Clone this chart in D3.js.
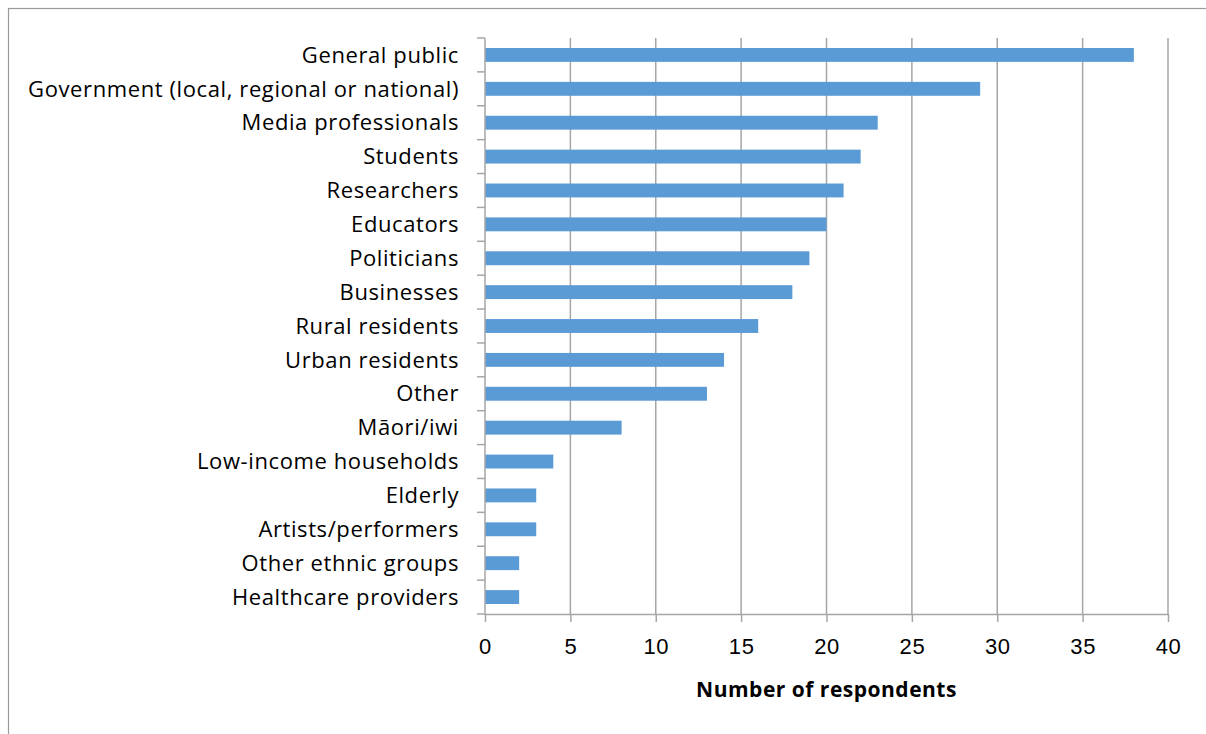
<!DOCTYPE html>
<html lang="en">
<head>
  <meta charset="UTF-8">
  <title>Number of respondents</title>
  <style>
    body { margin: 0; background: #fff; }
    svg { display: block; font-family: "Open Sans", sans-serif; }
    .grid line { stroke: #a6a6a6; stroke-width: 1.5; }
    .axis path, .axis line { stroke: #a6a6a6; stroke-width: 1.5; }
    .axis text { fill: #000; font-size: 22px; letter-spacing: 0.6px; }
    .bar { fill: #5b9bd5; }
    .title { font-size: 21px; font-weight: bold; letter-spacing: 0.5px; }
  </style>
</head>
<body>
  <script src="https://d3js.org/d3.v7.min.js"></script>
  <script>
    // data
    const categories = ['General public', 'Government (local, regional or national)', 'Media professionals',
      'Students', 'Researchers', 'Educators', 'Politicians', 'Businesses', 'Rural residents',
      'Urban residents', 'Other', 'Māori/iwi', 'Low-income households', 'Elderly',
      'Artists/performers', 'Other ethnic groups', 'Healthcare providers'];
    const respondents = [38, 29, 23, 22, 21, 20, 19, 18, 16, 14, 13, 8, 4, 3, 3, 2, 2];
    const xTicks = [0, 5, 10, 15, 20, 25, 30, 35, 40];

    const WIDTH = 1206, HEIGHT = 734;
    const margin = {top: 38, right: 38, bottom: 120, left: 485};
    const innerW = WIDTH - margin.left - margin.right;
    const innerH = HEIGHT - margin.top - margin.bottom;

    const svg = d3.select('body').append('svg')
      .attr('width', WIDTH)
      .attr('height', HEIGHT);

    // outer frame
    svg.append('rect')
      .attr('x', 8.5).attr('y', 8.5)
      .attr('width', WIDTH + 10).attr('height', HEIGHT + 10)
      .attr('fill', 'none')
      .attr('stroke', '#9a9a9a')
      .attr('stroke-width', 1.2);

    const g = svg.append('g').attr('transform', `translate(${margin.left},${margin.top})`);

    const x = d3.scaleLinear().domain([0, 40]).range([0, innerW]);
    const y = d3.scaleBand().domain(categories).range([0, innerH]).paddingInner(0.59).paddingOuter(0.295);
    const yEdges = d3.scaleBand().domain(categories).range([0, innerH]);

    // vertical gridlines
    g.append('g').attr('class', 'grid')
      .selectAll('line')
      .data(xTicks.slice(1))
      .join('line')
        .attr('x1', d => x(d)).attr('x2', d => x(d))
        .attr('y1', 0).attr('y2', innerH);

    // bars
    g.selectAll('.bar')
      .data(respondents)
      .join('rect')
        .attr('class', 'bar')
        .attr('x', 0)
        .attr('y', (d, i) => y(categories[i]))
        .attr('width', d => x(d))
        .attr('height', y.bandwidth());

    // x axis
    const xAxis = d3.axisBottom(x).tickValues(xTicks).tickSize(8).tickPadding(16).tickSizeOuter(0);
    g.append('g').attr('class', 'axis x')
      .attr('transform', `translate(0,${innerH})`)
      .call(xAxis);

    // y axis: labels centred on bars, ticks on band edges
    const yAxisG = g.append('g').attr('class', 'axis y');
    yAxisG.append('line')
      .attr('x1', 0).attr('x2', 0).attr('y1', 0).attr('y2', innerH);
    yAxisG.selectAll('line.tick')
      .data(categories.map(c => yEdges(c)).concat([innerH]))
      .join('line')
        .attr('class', 'tick')
        .attr('x1', -8).attr('x2', 0)
        .attr('y1', d => d).attr('y2', d => d);
    yAxisG.selectAll('text')
      .data(categories)
      .join('text')
        .attr('x', -26)
        .attr('y', d => y(d) + y.bandwidth() / 2)
        .attr('dy', '0.35em')
        .attr('text-anchor', 'end')
        .text(d => d);

    // axis title
    g.append('text')
      .attr('class', 'title')
      .attr('x', innerW / 2)
      .attr('y', innerH + 83)
      .attr('text-anchor', 'middle')
      .text('Number of respondents');
  </script>
</body>
</html>
